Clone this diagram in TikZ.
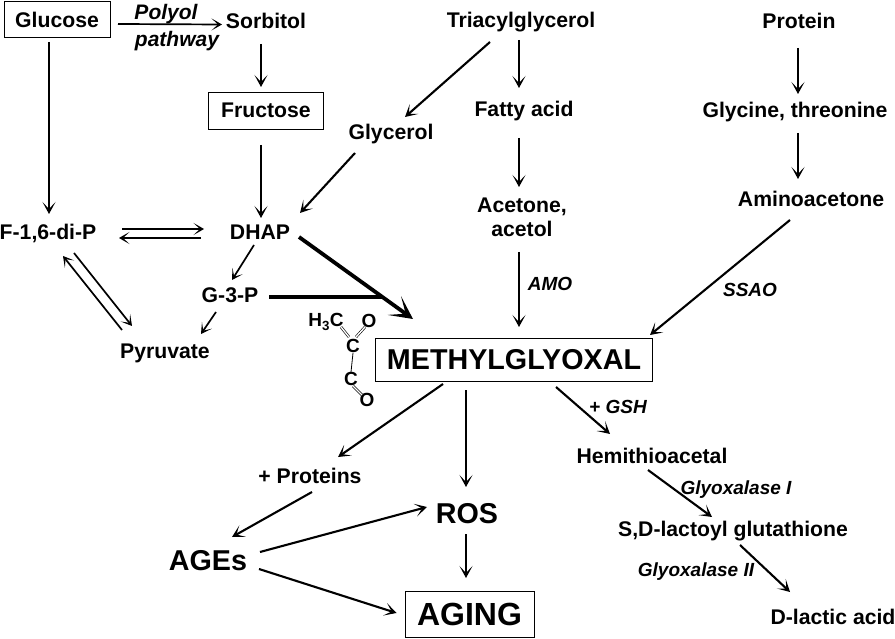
\documentclass[tikz,border=0pt]{standalone}
\usepackage{fontspec}
\setmainfont{Liberation Sans}
\usetikzlibrary{arrows.meta}
\tikzset{
 lab/.style={font=\fontsize{21.2}{24}\selectfont\bfseries,inner sep=0pt,align=center},
 biglab/.style={lab,font=\fontsize{28.7}{32}\selectfont\bfseries},
 ital/.style={font=\fontsize{19}{22}\selectfont\bfseries\itshape,inner sep=0pt,align=center},
 chem/.style={font=\fontsize{19}{20}\selectfont\bfseries,inner sep=0pt},
 boxn/.style={lab,draw,line width=0.9pt,fill=white},
 arr/.style={-{Stealth[length=12pt,width=13pt,inset=7pt]},line width=2.1pt},
 tarr/.style={-{Stealth[length=10.5pt,width=12pt,inset=6.5pt]},line width=1.7pt},
 bigarr/.style={-{Stealth[length=23pt,width=23pt,inset=14pt]},line width=3.8pt},
 bond/.style={line width=0.8pt},
 dbond/.style={double,double distance=1.4pt,line width=0.6pt},
}
\newcommand{\conn}[7]{\draw[#1] ([shift={(#3,#4)}]#2.center) -- ([shift={(#6,#7)}]#5.center);}
\begin{document}
\begin{tikzpicture}[x=1pt,y=-1pt]
\useasboundingbox (0,0) rectangle (895,639);
\node[boxn,minimum width=106,minimum height=36] (glu) at (57,19.5) {Glucose};
\node[lab] (sor) at (266,21) {Sorbitol};
\node[boxn,minimum width=115,minimum height=37] (fru) at (266,110.5) {Fructose};
\node[lab] (tri) at (521,22) {Triacylglycerol};
\node[lab] (pro) at (799,21) {Protein};
\node[lab] (fat) at (524,111) {Fatty acid};
\node[lab] (gly) at (391,134) {Glycerol};
\node[lab] (gt) at (795,112) {Glycine, threonine};
\node[lab] (ace) at (522,217) {Acetone,\\acetol};
\node[lab] (ami) at (811,199) {Aminoacetone};
\node[lab] (fdp) at (48,233) {F-1,6-di-P};
\node[lab] (dhap) at (260,232) {DHAP};
\node[lab] (g3p) at (230,295) {G-3-P};
\node[lab] (pyr) at (165,353) {Pyruvate};
\node[boxn,biglab,draw,minimum width=277,minimum height=43] (mg) at (514,360) {METHYLGLYOXAL};
\node[lab] (prot) at (310,476) {+ Proteins};
\node[lab] (hemi) at (652,456) {Hemithioacetal};
\node[lab] (sd) at (733,531) {S,D-lactoyl glutathione};
\node[lab] (dl) at (833,617) {D-lactic acid};
\node[biglab] (ages) at (208,561) {AGEs};
\node[biglab] (ros) at (467,514) {ROS};
\node[boxn,font=\fontsize{32}{36}\selectfont\bfseries,minimum width=129,minimum height=46] (aging) at (469.5,614) {AGING};
\node[ital,font=\fontsize{21}{24}\selectfont\bfseries\itshape] (pol) at (166,14) {Polyol};
\node[ital,font=\fontsize{21}{24}\selectfont\bfseries\itshape] (pat) at (177,41) {pathway};
\node[ital] (amo) at (550,284) {AMO};
\node[ital] (ssao) at (750,290) {SSAO};
\node[ital] (gsh) at (618,407) {+ GSH};
\node[ital] (g1) at (736,490) {Glyoxalase I};
\node[ital] (g2) at (696,572) {Glyoxalase II};
\node[chem] (hc) at (326,322) {H\textsubscript{3}C};
\node[chem] (o1) at (369,321) {O};
\node[chem] (c1) at (353,346) {C};
\node[chem] (c2) at (351,379) {C};
\node[chem] (o2) at (367,400) {O};
\draw[dbond] ([shift={(15,5)}]hc.center) -- ([shift={(-4,-9)}]c1.center);
\draw[dbond] ([shift={(3,-9)}]c1.center) -- ([shift={(-4,6)}]o1.center);
\draw[bond] (c1.south) -- (c2.north);
\draw[dbond] ([shift={(2,7)}]c2.center) -- ([shift={(-5,-5)}]o2.center);
\conn{tarr}{glu}{61}{4.5}{sor}{-44}{3.5}
\conn{arr}{glu}{-8}{22.5}{fdp}{1}{-19}
\conn{arr}{sor}{-5}{23}{fru}{-5}{-23.5}
\conn{arr}{fru}{-5}{34.5}{dhap}{1}{-14}
\conn{arr}{tri}{-2}{18}{fat}{-5}{-23}
\conn{arr}{tri}{-31}{20}{gly}{14}{-17}
\conn{arr}{gly}{-36}{19}{dhap}{40}{-19}
\conn{arr}{fat}{-5}{27}{ace}{-3}{-30}
\conn{arr}{ace}{-3}{35}{mg}{5}{-33}
\conn{arr}{pro}{-1}{27}{gt}{3}{-18}
\conn{arr}{gt}{3}{21}{ami}{-13}{-20}
\conn{arr}{ami}{-21}{21}{mg}{136}{-25}
\conn{tarr}{fdp}{74}{-4}{dhap}{-56}{-3}
\conn{tarr}{dhap}{-59}{6}{fdp}{71}{5}
\conn{tarr}{fdp}{26}{20}{pyr}{-33}{-27}
\conn{tarr}{pyr}{-43}{-23}{fdp}{15}{23}
\conn{tarr}{dhap}{-6}{13}{g3p}{2}{-15}
\conn{tarr}{g3p}{-14}{17}{pyr}{36}{-19}
\conn{bigarr}{dhap}{39}{5}{mg}{-101}{-41}
\coordinate (merge) at (383,297);
\draw[line width=3.4pt] ([shift={(39,2)}]g3p.center) -- (merge);
\conn{arr}{mg}{-71}{24}{prot}{28}{-19}
\conn{arr}{mg}{-48}{30}{ros}{-1}{-27}
\conn{arr}{mg}{42}{27}{hemi}{-42}{-22}
\conn{arr}{prot}{2}{16}{ages}{24}{-24}
\conn{arr}{ages}{52}{-9}{ros}{-40}{-7}
\conn{arr}{ages}{51}{8}{aging}{-73}{-1}
\conn{arr}{ros}{-1}{20}{aging}{-3.5}{-36}
\conn{arr}{hemi}{-4}{14}{sd}{-21}{-14}
\conn{arr}{sd}{7}{14}{dl}{-43}{-25}
\end{tikzpicture}
\end{document}
